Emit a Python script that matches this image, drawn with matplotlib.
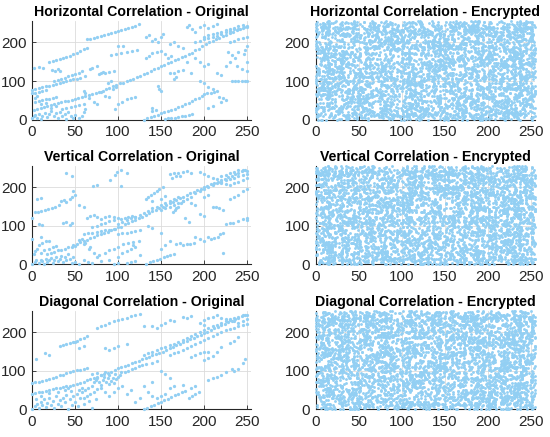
import numpy as np
import matplotlib
matplotlib.use("Agg")
import matplotlib.pyplot as plt

plt.rcParams['font.family'] = ['Liberation Sans', 'DejaVu Sans']

# pixel pairs of the original image
horiz_orig = [
    (46,50),(50,52),(54,55),(58,58),(62,60),(66,63),(70,66),(74,68),(78,72),(82,75),(86,78),(90,82),(94,86),(98,90),
    (102,94),(106,96),(110,99),(114,102),(118,106),(122,110),(126,114),(130,118),(134,122),(138,126),(142,130),
    (146,134),(150,138),(154,142),(158,146),(162,150),(166,154),(170,158),(174,162),(178,166),(182,170),(186,174),
    (190,180),(194,184),(198,190),(202,196),(206,200),(210,205),(214,208),(218,212),(222,216),(226,220),(230,224),
    (234,228),(238,232),(242,236),(246,240),(250,244),
    (190,200),(195,205),(200,208),(205,212),(210,215),(215,218),(220,222),(225,226),(230,230),(235,234),(240,236),
    (245,238),(250,240),(200,215),(205,220),(210,222),(215,225),(220,228),(225,232),(230,236),(235,238),(240,242),
    (245,245),(230,200),(235,204),(240,208),(245,212),(250,215),
    (20,150),(24,152),(28,155),(32,158),(36,161),(40,163),(44,166),(48,170),(52,174),(56,178),(60,182),(64,186),
    (64,208),(68,210),(72,212),(76,214),(80,216),(84,219),(88,222),(92,225),(96,228),(100,230),(104,233),(108,236),
    (112,238),(116,241),(120,244),(124,247),(23,128),(27,125),(30,130),(33,127),(2,135),(8,136),(13,134),
    (0,77),(4,79),(8,82),(12,84),(16,86),(20,88),(24,90),(28,93),(32,95),(36,97),(40,100),(44,102),(48,104),(52,106),
    (56,108),(0,68),(4,70),(8,72),(12,74),(16,76),(26,100),(30,103),(34,106),(38,109),(42,112),(46,115),(50,118),
    (2,25),(6,28),(10,30),(14,32),(18,35),(22,38),(26,40),(30,43),(34,45),(38,47),(42,48),(4,45),(8,47),(12,50),
    (16,52),(20,54),(24,56),(28,58),(0,3),(2,8),(4,12),(6,5),(8,15),(10,2),(12,10),(15,18),(18,6),(20,14),(22,22),
    (25,10),(28,16),(30,4),(32,20),(35,8),(38,14),(40,2),(42,20),(45,8),(48,3),(50,12),(55,4),(58,10),(60,20),
    (62,28),(35,28),(40,30),(45,32),(50,35),(55,38),(60,40),(3,55),(6,60),(10,40),(16,44),(22,30),(28,34),
    (60,75),(62,70),(66,55),(72,45),(75,40),(80,72),(85,60),(90,58),(96,28),(100,40),(105,45),(110,52),(115,55),
    (120,58),(94,80),(98,85),(88,95),(92,100),(55,120),(58,125),(62,112),(68,130),(70,135),(75,140),(78,118),
    (82,124),(92,168),(98,170),(104,172),(110,175),(116,178),(122,180),(100,190),(106,192),(80,120),(85,122),
    (90,124),(95,126),(133,215),(136,220),(140,205),(143,210),(146,200),(150,215),(152,222),(132,160),(136,165),
    (140,172),(145,175),(150,178),(155,170),(158,160),(162,165),(160,120),(165,122),(170,125),(175,128),(165,105),
    (168,110),(148,80),(150,75),(146,88),(140,22),(140,30),(144,26),
    (130,0),(134,3),(138,6),(142,9),(146,12),(150,16),(154,19),(158,22),(162,25),(166,28),(170,32),(174,36),
    (178,40),(182,44),(186,48),(190,52),(194,56),(198,60),(155,1),(158,3),(162,4),(166,5),(170,7),(174,8),(178,10),
    (182,12),(186,15),(200,65),(204,68),(208,70),(212,72),(218,58),(222,56),(205,30),(210,35),(220,45),(225,50),
    (232,100),(236,100),(240,101),(244,100),(248,100),(250,101),(250,190),(248,180),(246,170),(240,175),(236,160),
    (232,168),(228,175),(215,120),(220,115),(225,140),(230,150),(238,140),(244,130),(250,125),(250,150),
    (180,240),(183,245),(186,235),(190,228),(195,240),(200,245),(205,238),(210,242),(215,248),(190,160),(195,150),
    (200,140),(205,145),(185,120),(180,150),(175,185),(170,190),(165,200),(160,195),(195,100),(200,95),(205,85),
    (210,78),(215,75),
]

vert_orig = [
    (48,50),(52,54),(56,58),(60,60),(64,64),(68,68),(72,72),(76,76),(80,78),(84,80),(88,84),(92,88),(96,92),
    (100,96),(104,98),(108,104),(112,108),(116,112),(120,116),(124,120),(128,124),(132,128),(136,134),(140,138),
    (144,142),(148,146),(152,150),(156,154),(160,158),(164,162),(168,168),(172,172),(176,176),(180,180),(184,184),
    (188,188),(192,192),(196,196),(200,200),(204,204),(208,208),(212,212),(216,214),(220,218),(224,222),(228,226),
    (232,230),(236,234),(240,238),(244,242),(248,246),
    (100,105),(105,110),(110,115),(115,120),(120,122),(125,128),(130,132),(135,138),(140,145),(145,150),(150,155),
    (155,160),(160,165),(165,170),(170,175),(150,140),(155,145),(160,150),(165,155),(170,160),(175,165),(180,170),
    (185,175),(190,185),(195,190),(200,195),(205,200),(210,205),(215,210),(220,215),(225,218),(230,222),(235,225),
    (240,228),(245,232),(250,235),
    (195,240),(200,235),(205,230),(210,225),(215,222),(220,228),(225,232),(230,238),(235,240),(240,244),(245,246),
    (250,242),(250,225),(245,220),(240,215),(235,212),(230,205),(225,208),(220,210),(160,235),(165,236),(170,238),
    (175,240),(180,242),(185,238),(163,225),(168,228),(172,230),
    (132,170),(135,175),(138,180),(142,185),(145,190),(148,195),(152,200),(140,165),(150,170),(155,178),
    (0,2),(3,6),(5,10),(8,4),(10,12),(12,8),(14,2),(16,14),(18,6),(20,10),(22,16),(24,4),(26,12),(28,20),(30,8),
    (32,14),(34,22),(36,6),(38,18),(40,10),(42,26),(44,14),(46,4),(48,20),(2,28),(4,34),(6,40),(10,30),(14,36),
    (18,26),(22,30),(26,32),(30,36),(34,38),(38,40),(42,44),(46,46),(50,48),(20,40),(24,44),(28,48),(8,50),(12,55),
    (16,60),(0,66),(10,70),(20,60),(55,62),(58,66),(60,52),(62,56),(66,40),(68,44),(72,30),(75,20),(78,25),(85,30),
    (90,38),(95,40),(100,45),(50,5),(55,2),(60,10),(65,6),(70,3),(80,8),(90,12),(100,20),(105,30),(110,35),(115,40),
    (120,45),(118,50),(125,25),
    (3,135),(7,137),(11,139),(15,141),(19,143),(23,146),(27,150),(31,154),(6,170),(10,172),(8,105),(12,102),(0,120),
    (34,165),(37,168),(40,162),(44,170),(47,174),(36,106),(40,110),(44,103),(47,108),(40,236),(47,228),(50,180),
    (48,190),(55,155),(60,150),(64,120),(68,125),(72,128),(76,122),(80,118),(85,124),(90,126),(95,124),(100,120),
    (104,118),(108,120),(112,122),(116,125),(120,124),(91,220),(97,232),(99,240),(104,245),(110,238),(71,203),
    (75,205),(104,203),(70,98),(75,100),(80,104),(85,108),(90,112),(95,116),(60,78),(65,80),(70,82),(75,84),(80,86),
    (85,88),(90,90),(95,92),(100,78),(105,80),(110,82),(115,84),(120,86),(125,88),(106,52),(112,55),(118,58),(124,60),
    (133,2),(137,5),(141,8),(145,12),(149,15),(153,18),(157,21),(161,24),(165,28),(110,3),(115,5),(120,8),(95,2),
    (100,4),(168,52),(172,56),(176,50),(180,54),(184,52),(188,56),(205,70),(208,65),(212,68),(216,72),(219,78),
    (222,82),(222,30),(226,104),(230,106),(234,108),(240,112),(245,118),(250,115),(250,120),(160,60),(155,50),
    (150,40),(190,70),(195,65),(200,60),(164,135),(166,140),(168,145),(170,150),(173,160),(176,165),(210,148),
    (214,150),(218,146),(222,140),(230,170),(235,175),(240,180),(245,190),(250,195),(200,175),(205,180),(185,160),
    (190,155),(195,130),(200,125),(178,120),(182,110),(150,80),(140,95),(135,100),
]

diag_orig = [
    (48,62),(52,65),(56,68),(60,72),(64,75),(68,78),(72,82),(76,85),(80,88),(84,92),(88,95),(92,98),(96,102),
    (100,106),(104,110),(108,113),(112,116),(116,120),(120,123),(124,126),(128,130),(132,133),(136,136),(140,140),
    (144,143),(148,146),(152,150),(156,154),(160,158),(164,162),(168,166),(172,170),(176,174),(180,178),(184,182),
    (188,186),(192,190),(196,194),(200,198),(204,202),(208,206),(212,210),(216,214),(220,218),(224,222),(228,226),
    (232,230),(236,234),(240,238),(244,242),(248,245),
    (130,140),(135,145),(140,150),(145,155),(150,158),(155,162),(160,166),(165,170),(170,176),(175,180),(180,185),
    (185,190),(190,195),(195,200),(200,205),(205,210),(210,215),(215,220),(220,225),(225,230),(230,235),(235,238),
    (240,240),(245,244),(250,246),(160,140),(165,145),(170,150),(175,155),(180,160),(185,165),(190,170),(195,175),
    (200,180),(205,185),(210,190),(215,195),(220,200),(225,205),(230,208),(235,212),(240,215),(245,218),(250,222),
    (185,135),(190,140),(195,145),(200,150),(205,148),
    (0,68),(4,70),(8,72),(12,74),(16,76),(20,79),(24,82),(28,85),(32,88),(36,90),(40,93),(44,96),(48,99),(52,101),
    (56,103),(60,105),(64,107),(0,40),(4,42),(8,44),(12,46),(16,48),(20,50),(24,52),(28,54),(32,56),(36,58),(40,60),
    (44,61),(32,165),(36,167),(40,170),(44,172),(48,175),(52,178),(56,182),(60,185),(64,190),(75,210),(80,215),
    (85,220),(90,224),(95,228),(100,232),(105,235),(110,238),(115,241),(120,244),(125,247),
    (0,2),(4,8),(6,14),(8,4),(10,20),(12,10),(14,26),(16,6),(18,16),(20,30),(22,12),(24,22),(26,4),(28,34),(30,14),
    (32,24),(34,8),(36,30),(38,18),(40,38),(42,2),(44,26),(46,12),(48,34),(50,20),(52,40),(54,8),(56,30),(58,44),
    (60,14),(62,50),(64,34),(66,22),(68,40),(70,4),(72,46),(74,28),(76,52),(5,28),(10,35),(20,42),(30,45),(55,50),
    (58,55),(65,56),(70,60),(45,48),(38,50),(42,55),
    (72,70),(74,76),(76,80),(78,72),(80,90),(82,76),(84,84),(86,70),(88,80),(90,88),(92,74),(94,82),(96,92),(98,78),
    (70,92),(75,95),(85,96),(90,66),(80,64),(95,68),(100,84),(102,90),(104,96),(108,98),(112,100),(116,104),
    (120,108),(124,112),(128,114),(132,118),
    (5,130),(15,147),(20,140),(50,175),(55,160),(60,165),(85,160),(90,155),(95,158),(100,165),(110,170),(130,215),
    (140,215),(145,210),(150,220),(155,225),(160,232),(165,228),(175,240),(180,236),(185,242),(140,120),(145,125),
    (150,100),(155,92),(160,82),(140,72),(160,55),(165,60),(175,62),(185,55),(190,60),(200,128),(205,132),(210,138),
    (215,150),(220,162),(230,172),(235,178),(240,188),(245,120),(248,130),(235,100),(240,104),(120,20),(125,30),
    (110,40),(115,50),(100,55),(95,45),(90,35),(85,45),(80,55),(105,60),(60,30),(130,60),(135,45),
    (130,0),(134,4),(138,8),(142,12),(146,16),(150,20),(154,24),(158,28),(162,32),(166,36),(170,40),(174,44),
    (178,48),(182,30),(186,35),(190,40),(194,45),(205,75),(210,80),(215,84),(220,88),(226,98),(232,104),(145,30),
    (150,35),(155,40),(140,35),(200,232),(205,236),(210,240),(215,244),(220,238),(225,235),(230,232),(235,228),
    (240,225),(245,230),(250,235),(195,225),(200,220),
]

# encrypted image nibbles, typed as hex rows
enc_rows = [
    "3fa81c07e95bd2446f90a3c17e2b58f0d6193ac4e7720b9d51f86c2ea4370db8c95e12f7a06b4d8339e2c0757fa91d64b8f3268e0c5da7b14f923ce06a85d17b",
    "a2190ec77d53f8b16a2fe4908c3bd51e77a0c629f4835db01ae86f3c952b7ed4086bc1fa4e32978d05b9e6215ac873fd60419be82c7f0ad35694eb1f28c470b6",
    "5d08e1b37a6c940ff24d8ab2153ec97016d89f4b27e3a56c0b81fd3e94627ac85e1f03b9d4762ae8c09157f36db2480ea4197c5fd26b8e30a7c4195ef2368dba",
    "e74a21c9068fb53d7ae2164b98cf05a37b2de8613c90f45ab7126e0d8f93c4582abf71e60594d3a87c1e2fb6408d95ca3e71b5069f2ad48c17e3b0568af9d241",
    "1bc6f2834ea7095dd1386bfa42c0977e25b98a0f63d41ce8b75a2c9604f1e38d7b45a6120ef9c83db1567a0e94fc2369d8a14be75c063fa8d21b9e4780c5f36a",
    "907d3ab5e1486c0f27d9c3a58e14b6720fea39c5d7814b2e6af09d3578c1e2b6403f95da8e17620cbf485d3ae9117c6fa02bd8e53906c4a7f12e8d5b6390cb47",
    "c43e8f1d05b7a2694ad0e37c18b25f96e40a7d3bc8216fe59310b4ac7d2e85f61c39ab0764d2e9c58a1f36b70de4258fc91a64b3e02d7f8156ac3b94e0d72f18",
    "08f55c9ae3276bd4108e4fa2c7396d1b80e5a24c97f31d6e0ba8357cd492fe16a05bc873e1294df6b86e0a5c3197e2d40fb85a6c13e9a72d4f06b1c8953ea57d",
    "6ea1d7304cb98f125ac62ee0937a4bd5186f0c3a9eb2d45781c7e6320fa9b35d4c8e1276bf03a95de41b28c67f9014e5d3ab82674cf1093eb7d2568a0cf3e14b",
    "b5293f8ec17a064dd8b3e5129c70fa46a31b8e5dc027f96b4e1a0d8379c5b2e6f8413ad07c96255be0a7f43d1c86b24e9f0137c5a8d26ebf4093c75e1a862dd0",
    "4f0ca8e62d9b35713ef5a08c46d19b27e0c853fa167b2d94e36ac0571fb8482d9ce6a5034b7fd1c2893e6a0f51b7d4c89e2a76305fd1b8e42c9a6173f0e85b2c",
    "d316b7409fe25ca8632d0e91b5f4378ac0e6127d59a3bf84061ec95d2a703be8f1469c25d7b0e3a81f6c54029ed8b37a150fc6e4923db87a5e10c8f6342b9d71",
    "2e97c45b18a0fd3682c97e0b4ad5136fe8249bc17053dae6a84f1c29b6e0735d9a2cf18e4b07d69531ace28f70b45e1db3c8066a9f2e147dc0b5893af16e25c8",
    "85da0f3ec6725b1e9a40d7e3286cb19f53fa0ec42d8b7169e50c3ba6f2189d47cb0e65a3f17d294b8e6003c9f5a27e14bd6c98350ae1f4728bd3065c9ae1b43f",
    "f0643b97ad1ec2580b7fe4a6359d12c8e47a0f6b3d92e5c1a8067fb4d31e9c265a83f0d7169be24c5ab0e738d1f6094ac2e75b18ad6f3029ce4b8713da5f60e2",
    "7b2ed5810c69a4f337b0c85ed16a293f0e84bd75a2c61f3e98d047b5ea2c61904f3db8e7a2156cc09e4af8237bd6051e9ac34f8b260de7c1593ab08f246d1ea5",
    "19c8a42f6be0d7953ac4168e0fb25d7a94e3c16b08fa27d5ec3914b680ad5f2e73c1948b0ef6a23d5c7e9016b4f82ad3e0c5617a9b4f38d2e0a61c5b7f9324e8",
    "d6407ef1953cb82a61e9d40b7c3a56f28d17e0bc49a65f3812d7ce908b4e6a135fd2a08c7e3b9164fa05d8c2e73b4a9e16c0f5283d7ab14e69c02fb8d5631a97",
    "3a9e5c20f7b4816dc3e19a52704fd8b63e0a7c15bd92f64ea81c35e90b7d26f4c1a85e039f7b6d20e4c91a58b3f07e6d2ac4195fe83b0d76a2c4e81f95073cbd",
    "c2175aef8b036d94fa28c5e1073db96a4e0f8d21c5b7e3a9604fd12b8ce75a3916d0f4b2e867a3c15d9e20f74b8a61c3ed95072ba4f6e81d3c5a907be24f1680",
    "8e35b10d64fa2ec7519bd3784ae026cf9b1e45a0d7f3628c0be94d1a76f25c38e07b4a9d16e3c2f58a0b67d41ce9327fa5d08e6b1c34f9a7205ed8c13b6e49f2",
    "51fc8e270ab3d6495ec1a70f3d8b46e92cf0175ab86de34091c7f2a85e3b0d6c19a47ef3268bd05c7e14a9f3620db8c5e41f7a930e6db24c18f5a703e9d6b25c",
    "a06b43d9e2175cf80a3be6c14f92d7580e6ca13bf4972de05ab18c63f94e07d2b5813ac6e90f4d72a3b8e1605cd9f427a0ec36b1958f4d2ea07c6b3e9150f8d4",
    "2cd9f06e3a841bb75ec2094fd163a8e75b20cf4d9a1e687bc3f05d92a4e6187bf0c3592dea486b1f7c0ea5d39b2164cf8e07a5d31bc4692ef0d87ae5134b96c0",
    "e4817ac35f0d96b2e8146cfa03729bd5c10ea48f6327dbe59a0c41b8f76d2e93c5a0148bfe6d37920ac5e81f4b63d97a2e0fc5816b3d49a7e2c0f53b8d1647ea",
    "0b5ed7a9e24683fc1a9d05e7b36c2f48dea1937c05f6b284e9d31a7c5f02be84619da3e7c04f5b2d8a16e9c73f0b52da48e6c17b390f2da54e8c1b36f9702e5d",
    "96f2308bcd1e5a74e0b9c627f1d43a85b07e2c961df54ab380e7162fc9a45db30e7f2168ac9b4e53d01f7c82ea649b35c0f7a1e28d46b9c3057ef1a82d6c94b1",
    "4da70c62f9b13e8d5a04ce79b2308fd16ae45c92e07b3f18a6dc5290fe7b43e8c12d6a950fb7e3482ca9d61e05f73bc48a2e9d06f5b1c37a8e42d90cb61f5a73",
    "b81e49f507c3dae24b6897fd2e0a53c1b9f86d340ea2c71f58e9b04dc36a2f9571be08d4c3f6a2e5b9170d4c8ef3a62b5d917c0e4af83bd26105ec9f7a4b2d0e",
    "7305e6b8d21fa94c0ed8376ab59e12f0c4a73d8e1b6f5924cb0a7ed3815f4c6be29a0d73f518c6e4b2d97a0c1e63f8b54da2097ef6c1b83e540adf92c67b1e38",
    "ce9a17d34e0bf5628fc1a49e037d6bb2e5184af0c93ed2560b7a4f19e8c53d26fa0b81c7e4935d2e6fa0cb17d8395ea4f0162bc7e8d5a3049cf1b5e76a283dc4",
    "1f64bc2ae8507dc3a91f06e5b82d47fa3c9e610dbe4a87f25c3d0e96ab14f7e28c5b039ed6a1473fc82e5d0b96a4fe3817c2d6b90e5a4fc17d38e2b60a95f14c",
    "d82b05f7139ce6a46bd03ef2c5891a7db40e9c26f3a8e5d170b4c9f23e6a58d1b704f9ac2e3d86c51ba0e7f4298d3ce06b5a14f7d9c28e3b60a571ed4fc0b9268a",
    "47e0ca3b9f62d815a7c3e09d4f16b28ce573a0fd4b1e9627dc05a8bf3e914c6d27a0f8e5b31c9d046afb2e75c8d13a904ef6b72d05c8a1e3f5b4962cd70e8a1f",
    "a5391e8dc04bf7266ea15cd8b0372f9e14c6a0b3de5f7281a9c40e6df3b85e20c71fa49d6e2b538c0fe7a14d69b2e0c5f38a74d16be9025fc3a8d47e1b60c2f9",
    "0ecb7245fa1d8e39c06ba5e2178fd4309b6e1ca57f2d80e4b36ac91f05d7e824b9c0a36f1e5d742cfa9b08e3d61c574ae0f2b98d36c1a5e704fb29d8e63ac105",
    "6d14a9f0b87e23c55fe09b2a6dc4108e73b5f1d92ea60c4b87e13f5d29a60ce8b4f17d3e05a9c62bd8e0174af3c5926be0d81a4f7c3e69b25ad0e3c8f4176b2e",
    "f3a85d1c26e0b79a04d7c3fe81629b5ad4e07c38f1b26ae95d0c4f738be1a62d50c9e8f24b7a13d6fc058e9a3b271fcd4e6a05b9d38c12f7e4a6b03d5c8e1927",
    "2b60f8ea43c91d705ab6e2f91c385dd0a47e2c6b918f3ed50ac47be1936f2d8a05cb741e9fa2d3607eb5c18d4af29e307bc6d5128fa0e4b937c6d1ae05f862b4",
    "95cd3107b6fa48e2d13e9c5a0b74f68e21da53c0b79e4f16832dce0a57b1f9c46e83a2d05fb7e1c9248da6f31b05ec7a9d24fb8c630e1ad57e92c4b06f3a8d15",
    "c8071e5dab2f946ce3b0a81d57f926c40eb7d3a95f2168eca043d7b1f52e9c086ab4d1e73c9f0258be6a1d40f7c3e9b526a0d8e14cf739b2ae05d68c1f4b73e0",
    "3e4fb92a60d7c185f2a63e0b9d48c71ae5206fb3d89c14e7a25b0fc8e6d13947ac5e02b8f61d3a974ec0b25df8a6193ce74b0ad521f96c8e3b47da0f1e5c962b",
    "8a12d6e47fc03b598ea7d21c6f4be0935dc1a68f0e27b94d3fa5c8016eb7d24a93f0e5c17b2a684dd19e3fa0c56b782e1fd4c09b3a6e85d72f1ac40be96d358f",
    "d4e65f183ba29c07e6d84f2b1ca5973e0fc8b2d641a7e3905bc6f12d8a0e74b39fc51ea62d083b7fe4c19a5d62b0f83e9c17a4d05be6f2398ac1d74e0b5a6f21",
    "17b93ac8f54e0d62a19bf70e3cd46a852be0f9d3167ca4e58b0d29f3c6a17e45d89b2e06fc3ad1748e5b92c0f6a3d71e4b8c05fa296ed3b17c0e48a5f92d3b6c",
    "e02d7b1c96a5f34e8db0c25a7f19e63d4c8a0eb5f7129d36ce4a815b0fd7e2693ab10c5e8f4d762bc9e30a5f18d6b47c2ea9f0136db85e4c27a0f9d31b8e56a4",
    "5bf1c8e03d79246ab5e2c18f0d6a3b97e40cf5a2d186b7e3c0495fd2ae38b1670ec9a4f25d8b13e6c07fa49d2b65e1c830fa7d4b9e26c51a08fd3e96b42c7a1d",
    "a967e04fb21c8d35f09ac6e72b4d1f58a3e60cb9d7254e1fa8063cd5b9e72f14a0d68c3fe1b5297ad40e6cb38f5a12e7d9c46b0fa3e852d1c69b07e4af3d2b58",
    "3c28a5d97e0f1bb46ce92f0a51d7834eb6a0fc2d95e7438c1ab605fe2d9c7b3e014af8c5d62b9e73a0f1c48e5d27b6a93fe0c15d8b47a2e63f0c9d54b81ea7c6",
    "f5d04e72c1b89a3e06fd5b18c7a2e4903db6f14ca82e7d5960bf3ac81e4d72b5c69f0a38e2d17b46cf5a09e83b2d61fc70a4e95b3d8c216fe0a7d49c3b5e18f2",
    "60ae39bfd7052c8e4a1f76db3e90c52ab8146fe0d37c9a25b1e48f03cd6a9b27e51d4fa0c3b6e8927d0cf4a16be53d8f207ac9e14b6d35f82ae07c91b4d6e35a",
    "b7349c05e86fd12a9bc04e7f35a8d6e21fb93c0a7d45e68b2fc1a093d7e54b1c6af82e9d0367c4b1fe5a82d09c3e76b14f5ad8e2c06b93f71dae48c25b0f9e63",
    "0f8c62ad147be3d95ac07f2e8d4b61a3c9e50fb2d7863ae14c90db5f27a6e38c0d1fb4a95e62c73b8ed0f14a69c2e57b3da80f6c1e9d42b5a73fe08c6d1b94a2",
    "c95ae13f80d46b2ce7b9052fa4c81d6e3b07f9ad52e1c84693fe0a6d1bc7524e9fa38c0d6b2e71f5a4c93d08e6fb2175dc4a90e3b86f1c25d7ae09b43f8ce612",
    "284d07b6fac1395ed0a28e4f7c63b91de5a0c437f82db6e901c5ae3f94d72b68ac0e15f9d3b47a2c86e0fd51a93b7e4c28d6f0a51e93c7b4d2068fea1c53b79d",
    "e61fb8c4d2350a97fe2c6b814da39f0e5c72b8da1e3f96c0a45d7b2e81f06cb39ad52e7c48f10b6de93ac24f7e1d58b0c69a3fe2d07b15c84ea6d93f20b7c58e",
    "4b92e50a7fc1d836b4e1039fd6a57c2e8b0fc4d3a96e271bf05ad8c3e94b6f127da05ec38b41f9d62ae7c03b5f8d1a94e6c2b07fd35ae81c49f0b6d23ea7518c",
    "a1e73cd98b264fe05ac3d17b92e04f685db3a2e0c91f74d6b85ae03c1f97d42b6ec59a08f3e1d74b2ca06f58e3d9b4172ce0af56c38d9be14a70f2d6c35b89e0",
    "7d045fa2e83b6c19d7f05ac48e2b93d61fc0a75e4b8d26f19ce3a7054db8f216e93ac5d07b42f8e1c6a95d03fb7e2c48a1d96f0be35c27a84de10f96b3c5e74a",
    "1ab6e92c05d7f348a0e6bd3c519f82e74ac0d5b9f1362ea8c47d0fb5e3921c6ad84f07be5a3c29e1f6d40b8c75a2e3df19064bc8e7a53f2d19c60ae84b7fd235",
    "d3f82b7e640ac95e1bd7f26ca04e93b58d2ef1c07a6b943d5ef08c21b7a64d9e03fc5a28e16bd4970cf3e5a82d61bc4f9e07a3d58b26ce1f40b9a7e3d5c6028f",
    "56c01ea94fb3d7268e5ac1f0349d7be26a0fc8e5d13b97a24ec0f68d5b1a3e79c2f406db8a5e13c97fa20e4d6b81f5c3a09e7bd24f6ca8e150d93b7f2ce4a618",
    "9e3b76d10fa52c84e79db2460ac5e83f1bd79c2a60f4b8e53d1ac94f720be6d185ca3f09e2b74d6ac0f18e53b9d27a4fe60c8b15d3ae97c24f0b6e8d53a1c7f4",
    "c7084af5e23b1d96c5ae03f87b2d6e14a90cfd5b83e2c67a1f49d0e6b35c8a27f1e94d0bc6a3582e7fd14c9b0a6e3d52f8c17be4a0963d5fc82eb17a4d60e93b",
]

W = 64
nib = np.array([int(ch, 16) for ch in "".join(enc_rows)])
M = len(nib) // 2 // W * W
hi_nib, lo_nib = nib[:M], nib[M:2 * M]
# high and low nibble of each pixel come from far-apart places in the typed text
strides = [k for k in (37, 41, 43, 47, 53, 59, 61, 67, 71, 73, 79, 83, 89, 97) if np.gcd(k, M) == 1]
pix = np.arange(M)
img = (hi_nib[(pix * strides[0]) % M] * 16 + lo_nib[(pix * strides[1]) % M]).reshape(-1, W)

enc_h = (img[:, :-1].ravel(), img[:, 1:].ravel())
enc_v = (img[:-1, :].ravel(), img[1:, :].ravel())
enc_d = (img[:-1, :-1].ravel(), img[1:, 1:].ravel())

titles = [
    ["Horizontal Correlation - Original", "Horizontal Correlation - Encrypted"],
    ["Vertical Correlation - Original", "Vertical Correlation - Encrypted"],
    ["Diagonal Correlation - Original", "Diagonal Correlation - Encrypted"],
]
orig_sets = [horiz_orig, vert_orig, diag_orig]
enc_sets = [enc_h, enc_v, enc_d]

dot_col = "#92cff3"
axis_col = "#262626"

fig = plt.figure(figsize=(5.5, 4.37), dpi=100)
lefts = [32 / 550, 315.7 / 550]
bottoms = [0.7265, 0.3952, 0.0634]
w, h = 219.3 / 550, 98.2 / 437

for r in range(3):
    for c in range(2):
        ax = fig.add_axes([lefts[c], bottoms[r], w, h])
        if c == 0:
            pts = np.array(orig_sets[r])
            ax.scatter(pts[:, 0], pts[:, 1], s=5.5, c=dot_col, marker="o", linewidths=0, zorder=3, clip_on=False)
        else:
            ex, ey = enc_sets[r]
            ax.scatter(ex, ey, s=4.2, c=dot_col, marker="o", linewidths=0, zorder=3, clip_on=False)
        ax.set_xlim(0, 255)
        ax.set_ylim(0, 255)
        ax.set_xticks([0, 50, 100, 150, 200, 250])
        ax.set_yticks([0, 100, 200])
        ax.grid(True, color="#dcdcdc", lw=0.6)
        ax.set_axisbelow(True)
        for s in ["top", "right"]:
            ax.spines[s].set_visible(False)
        for s in ["left", "bottom"]:
            ax.spines[s].set_color(axis_col)
            ax.spines[s].set_linewidth(0.8)
        ax.tick_params(direction="in", length=3, width=0.6, color=axis_col, labelcolor=axis_col,
                       labelsize=11, pad=4)
        ax.set_title(titles[r][c], fontsize=10.2, fontweight="bold", pad=3.5)

fig.savefig("out.png", dpi=100)
